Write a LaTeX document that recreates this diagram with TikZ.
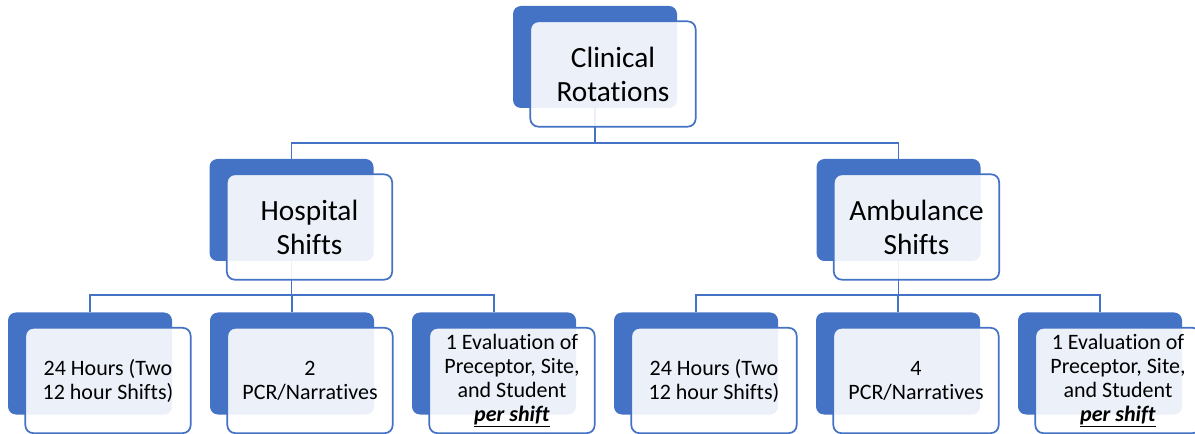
\documentclass[tikz,border=0pt]{standalone}
\usepackage{fontspec}
\setmainfont{Carlito}[RawFeature={-liga;-clig;-dlig}]
\usetikzlibrary{positioning}
\definecolor{accblue}{HTML}{4472C4}

\begin{document}
\begin{tikzpicture}
		[x=0.75pt,y=-0.75pt,
		 back/.style  = {fill=accblue, rounded corners=6pt, inner sep=0pt,
		                 minimum width=123pt, minimum height=76.5pt},
		 front/.style = {draw=accblue, line width=1.3pt, fill=white, fill opacity=0.9,
		                 text opacity=1, rounded corners=6pt, inner sep=1pt, align=center,
		                 minimum width=124pt, minimum height=79pt},
		 big/.style   = {front, font=\fontsize{22}{25.5}\selectfont},
		 small/.style = {front, font=\fontsize{16.5}{18}\selectfont},
		 conn/.style  = {draw=accblue, line width=1.4pt},
		]

	\useasboundingbox (0,0) rectangle (1195,434);

	% back plates
	\node [back] (rotb)    at (595,57)     {};
	\node [back] (hospb)   at (291.5,210)  {};
	\node [back] (ambb)    at (898.5,210)  {};
	\node [back] (hhoursb) at (90,363.5)   {};
	\node [back] (hpcrb)   at (292,363.5)  {};
	\node [back] (hevalb)  at (494,363.5)  {};
	\node [back] (ahoursb) at (696,363.5)  {};
	\node [back] (apcrb)   at (898,363.5)  {};
	\node [back] (aevalb)  at (1100,363.5) {};

	% connectors
	\draw[conn] (rotb.south) -- ++(0,35) -| (hospb.north);
	\draw[conn] (rotb.south) -- ++(0,35) -| (ambb.north);
	\draw[conn] (hospb.south) -- ++(0,34) -| (hhoursb.north);
	\draw[conn] (hospb.south) -- ++(0,34) -| (hpcrb.north);
	\draw[conn] (hospb.south) -- ++(0,34) -| (hevalb.north);
	\draw[conn] (ambb.south) -- ++(0,34) -| (ahoursb.north);
	\draw[conn] (ambb.south) -- ++(0,34) -| (apcrb.north);
	\draw[conn] (ambb.south) -- ++(0,34) -| (aevalb.north);

	% text boxes
	\node [big]   (rot)    at ([shift={(18,17)}]rotb)    {Clinical\\ Rotations};
	\node [big]   (hosp)   at ([shift={(18,17)}]hospb)   {Hospital\\ Shifts};
	\node [big]   (amb)    at ([shift={(18,17)}]ambb)    {Ambulance\\ Shifts};
	\node [small] (hhours) at ([shift={(18,17)}]hhoursb) {24 Hours (Two\\ 12 hour Shifts)};
	\node [small] (hpcr)   at ([shift={(18,17)}]hpcrb)   {2\\ PCR/Narratives};
	\node [small] (heval)  at ([shift={(18,17)}]hevalb)  {1 Evaluation of\\ Preceptor, Site,\\ and Student\\ \underline{\textbf{\textit{per shift}}}};
	\node [small] (ahours) at ([shift={(18,17)}]ahoursb) {24 Hours (Two\\ 12 hour Shifts)};
	\node [small] (apcr)   at ([shift={(18,17)}]apcrb)   {4\\ PCR/Narratives};
	\node [small] (aeval)  at ([shift={(18,17)}]aevalb)  {1 Evaluation of\\ Preceptor, Site,\\ and Student\\ \underline{\textbf{\textit{per shift}}}};

\end{tikzpicture}
\end{document}
